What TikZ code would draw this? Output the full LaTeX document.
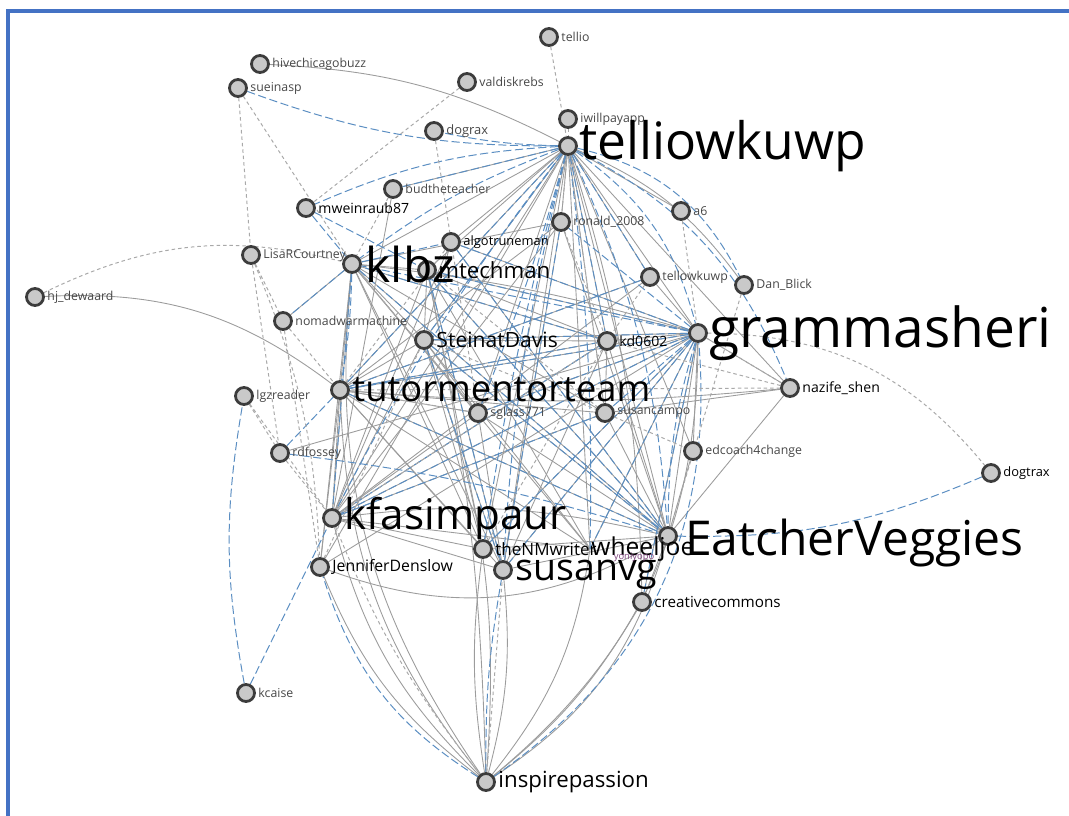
\documentclass[tikz,border=0pt]{standalone}
\usepackage{fontspec}
\setmainfont{Open Sans}
\usetikzlibrary{positioning,backgrounds}

\definecolor{tiegray}{HTML}{9C9C9C}
\definecolor{mentionblue}{HTML}{5B8EC2}
\definecolor{replygray}{HTML}{A9A9A9}
\definecolor{ringgray}{HTML}{3C3C3C}
\definecolor{dotfill}{HTML}{C9C9C9}
\definecolor{frameblue}{HTML}{4472C4}

\tikzset{
  user/.style={circle, draw=ringgray, fill=dotfill, line width=2.4pt,
    minimum size=0.51cm, inner sep=0pt},
  tag/.style={inner sep=0pt, text=black, font=\fontsize{#1}{#1}\selectfont},
  tag/.default=10.5,
  smalltag/.style={tag=#1, text=black!72},
  smalltag/.default=10.5,
  tie/.style={draw=tiegray, line width=0.75pt},
  mention/.style={draw=mentionblue, line width=0.85pt, dash pattern=on 7pt off 3pt},
  reply/.style={draw=replygray, line width=0.85pt, dash pattern=on 3pt off 2.5pt},
}

\begin{document}
\begin{tikzpicture}[x=0.03cm, y=-0.03cm]
  \useasboundingbox (0,0) rectangle (1069,816);
  % frame
  \draw[frameblue, line width=2.6pt] (8,816) -- (8,11) -- (1069,11);

  % users
  \node[user] (tellio)  at (549,37)  {};
  \node[user] (hive)    at (260,64)  {};
  \node[user] (sueinasp) at (238,88) {};
  \node[user] (valdis)  at (467,82)  {};
  \node[user] (iwill)   at (568,119) {};
  \node[user] (twk)     at (568,146) {};
  \node[user] (dograx)  at (434,131) {};
  \node[user] (budt)    at (393,189) {};
  \node[user] (mwein)   at (306,208) {};
  \node[user] (ronald)  at (561,222) {};
  \node[user] (a6)      at (681,211) {};
  \node[user] (algo)    at (451,242) {};
  \node[user] (lisa)    at (251,255) {};
  \node[user] (klbz)    at (352,264) {};
  \node[user] (tellow)  at (650,277) {};
  \node[user] (danb)    at (744,285) {};
  \node[user] (hjd)     at (35,297)  {};
  \node[user] (nomad)   at (283,321) {};
  \node[user] (stein)   at (424,340) {};
  \node[user] (kd)      at (607,341) {};
  \node[user] (gramma)  at (698,333) {};
  \node[user] (tutor)   at (340,390) {};
  \node[user] (nazife)  at (790,388) {};
  \node[user] (lgz)     at (244,396) {};
  \node[user] (sglass)  at (478,413) {};
  \node[user] (scampo)  at (605,413) {};
  \node[user] (rdf)     at (280,453) {};
  \node[user] (edcoach) at (693,451) {};
  \node[user] (dogtrax) at (991,473) {};
  \node[user] (kfas)    at (332,518) {};
  \coordinate (wheel)   at (590,549);
  \node[user] (eatch)   at (668,536) {};
  \node[user] (nmw)     at (483,549) {};
  \node[user] (jden)    at (320,567) {};
  \node[user] (susan)   at (503,570) {};
  \node[user] (ccom)    at (642,602) {};
  \node[user] (kcaise)  at (246,693) {};
  \node[user] (inspire) at (486,782) {};
  \node[user] (mtech)   at (427,270) {};

  % handles
  \node[smalltag, right=2pt of tellio] (tellio-t) {tellio};
  \node[smalltag, right=2pt of hive] (hive-t) {hivechicagobuzz};
  \node[smalltag, right=2pt of sueinasp] (sueinasp-t) {sueinasp};
  \node[smalltag, right=2pt of valdis] (valdis-t) {valdiskrebs};
  \node[smalltag, right=2pt of iwill] (iwill-t) {iwillpayapp};
  \node[tag=44, right=1pt of twk] (twk-t) {telliowkuwp};
  \node[smalltag=11, right=2pt of dograx] (dograx-t) {dograx};
  \node[smalltag, right=2pt of budt] (budt-t) {budtheteacher};
  \node[tag=12, right=2pt of mwein] (mwein-t) {mweinraub87};
  \node[smalltag, right=2pt of ronald] (ronald-t) {ronald\_2008};
  \node[smalltag, right=2pt of a6] (a6-t) {a6};
  \node[tag=11, right=2pt of algo] (algo-t) {algotruneman};
  \node[smalltag, right=2pt of lisa] (lisa-t) {LisaRCourtney};
  \node[tag=41, right=3pt of klbz] (klbz-t) {klbz};
  \node[tag=19, right=1pt of mtech] (mtech-t) {mtechman};
  \node[smalltag, right=2pt of tellow] (tellow-t) {tellowkuwp};
  \node[smalltag, right=2pt of danb] (danb-t) {Dan\_Blick};
  \node[smalltag, right=2pt of hjd] (hjd-t) {hj\_dewaard};
  \node[smalltag, right=2pt of nomad] (nomad-t) {nomadwarmachine};
  \node[tag=18, right=2pt of stein] (stein-t) {SteinatDavis};
  \node[tag=12, right=2pt of kd] (kd-t) {kd0602};
  \node[tag=47, right=1pt of gramma] (gramma-t) {grammasheri};
  \node[tag=31, right=2pt of tutor] (tutor-t) {tutormentorteam};
  \node[tag=12, right=2pt of nazife] (nazife-t) {nazife\_shen};
  \node[smalltag, right=2pt of lgz] (lgz-t) {lgzreader};
  \node[smalltag, right=2pt of sglass] (sglass-t) {sglass771};
  \node[smalltag, right=2pt of scampo] (scampo-t) {susancampo};
  \node[smalltag, right=2pt of rdf] (rdf-t) {rdfossey};
  \node[smalltag, right=2pt of edcoach] (edcoach-t) {edcoach4change};
  \node[tag=11, right=2pt of dogtrax] (dogtrax-t) {dogtrax};
  \node[tag=36, right=2pt of kfas] (kfas-t) {kfasimpaur};
  \node[tag=14.5, right=2pt of nmw] (nmw-t) {theNMwriter};
  \node[tag=21, right=1pt of wheel] (wheel-t) {wheeljoe};
  \node[tag=41, right=6pt of eatch, yshift=-6pt] (eatch-t) {EatcherVeggies};
  \node[tag=13.5, right=2pt of jden] (jden-t) {JenniferDenslow};
  \node[tag=32, right=2pt of susan, yshift=-4pt] (susan-t) {susanvg};
  \node[tag=13, right=2pt of ccom] (ccom-t) {creativecommons};
  \node[smalltag, right=2pt of kcaise] (kcaise-t) {kcaise};
  \node[tag=19, right=2pt of inspire] (inspire-t) {inspirepassion};
  \node[tag=8, text=violet!45!gray] (yoni) at (634,557) {yoniyopo};

  \begin{pgfonlayer}{background}
    % follows
    \foreach \p/\q/\b in {twk/klbz/0, twk/mtech/0, twk/stein/0, twk/tutor/0,
        twk/kfas/0, twk/susan/0, twk/nmw/0, twk/sglass/0, twk/kd/0,
        twk/gramma/0, twk/eatch/0, twk/wheel/0, twk/ronald/0, twk/algo/0,
        twk/scampo/0, twk/nazife/0, twk/a6/0, twk/tellow/0, twk/edcoach/0,
        twk/jden/0, twk/budt/0, hive/twk/12, twk/danb/15, twk/ccom/8,
        gramma/klbz/-5, gramma/mtech/0, gramma/stein/0, gramma/tutor/0,
        gramma/kfas/0, gramma/susan/0, gramma/nmw/0, gramma/sglass/0,
        gramma/kd/0, gramma/eatch/0, gramma/wheel/0, gramma/nazife/0,
        gramma/algo/0, gramma/tellow/0, gramma/edcoach/0, gramma/ccom/0,
        gramma/jden/0, gramma/rdf/0,
        klbz/mtech/0, klbz/stein/0, klbz/tutor/0, klbz/kfas/0, klbz/susan/0,
        klbz/nmw/0, klbz/eatch/0, klbz/wheel/0, klbz/sglass/0, klbz/kd/0,
        klbz/nomad/0, klbz/jden/0, klbz/ronald/0,
        tutor/stein/0, tutor/kfas/0, tutor/susan/0, tutor/eatch/0,
        tutor/wheel/0, tutor/kd/0, tutor/sglass/0, tutor/scampo/0,
        tutor/nazife/-5, tutor/nmw/0, tutor/jden/0, hjd/tutor/20,
        kfas/susan/0, kfas/eatch/10, kfas/wheel/0, kfas/nmw/0, kfas/stein/0,
        kfas/sglass/0, kfas/scampo/0, kfas/mtech/0,
        eatch/susan/0, eatch/nmw/0, eatch/stein/0, eatch/mtech/0,
        eatch/sglass/0, eatch/scampo/0, eatch/kd/0, eatch/edcoach/0,
        eatch/ccom/0, eatch/nazife/0, jden/eatch/-25,
        inspire/kfas/15, inspire/klbz/20, inspire/tutor/18, inspire/nmw/8,
        inspire/susan/-10, inspire/wheel/-15, inspire/eatch/-20,
        inspire/gramma/-25, inspire/jden/15, inspire/mtech/-5,
        inspire/ccom/-10, inspire/stein/-12,
        mtech/stein/0, mtech/kd/0, stein/kd/0, stein/sglass/0, kd/scampo/0,
        nazife/scampo/0, algo/stein/0, ronald/tutor/0, ronald/kfas/0,
        ronald/eatch/0, budt/kfas/0, wheel/stein/0, wheel/mtech/0,
        nmw/mtech/0, nmw/stein/0, susan/mtech/0, susan/stein/0,
        sglass/susan/0, scampo/klbz/0, kd/kfas/0, kd/susan/0, algo/kfas/0,
        algo/eatch/0, tellow/kfas/0, tellow/tutor/0, ronald/susan/0}
      \draw[tie] (\p) to[bend left=\b] (\q);
    % mentions
    \foreach \p/\q/\b in {twk/mwein/-10, sueinasp/twk/-10, twk/dograx/5,
        twk/gramma/20, twk/eatch/10, twk/kd/0, twk/stein/0, twk/tutor/0,
        twk/klbz/-8, twk/kfas/-5, twk/tellow/0, twk/susan/-5, twk/danb/25,
        twk/nazife/20, twk/sglass/3, twk/nmw/-3, twk/wheel/4, budt/twk/0,
        gramma/klbz/0, gramma/mtech/0, gramma/stein/0, gramma/tutor/0,
        gramma/kfas/0, gramma/nmw/0, gramma/susan/0, gramma/eatch/-8,
        gramma/sglass/0, gramma/wheel/0, gramma/ccom/0, gramma/algo/0,
        gramma/scampo/0, gramma/ronald/0,
        mwein/klbz/0, mwein/mtech/0, eatch/dogtrax/-12, kcaise/kfas/0,
        kcaise/lgz/10, inspire/jden/20, inspire/susan/5, inspire/gramma/-30,
        klbz/nomad/0, tutor/rdf/0, klbz/algo/0, tutor/kd/0, stein/eatch/0,
        klbz/eatch/0, kfas/scampo/0, rdf/eatch/5, klbz/kfas/0, klbz/tutor/4,
        tutor/eatch/0, mtech/eatch/0, algo/eatch/0, ronald/susan/0,
        kd/klbz/0, mtech/susan/0, stein/susan/0, kd/kfas/0, tellow/tutor/0}
      \draw[mention] (\p) to[bend left=\b] (\q);
    % replies
    \foreach \p/\q/\b in {tellio/twk/0, valdis/mwein/0, sueinasp/lisa/0,
        sueinasp/klbz/0, lisa/nomad/0, lisa/rdf/0, hjd/klbz/20, nomad/tutor/0,
        lgz/rdf/0, gramma/dogtrax/25, gramma/nazife/0, dograx/sglass/0,
        tellow/kd/0, a6/gramma/0, danb/eatch/0, inspire/kfas/8,
        inspire/susan/0, rdf/kfas/0, lgz/kfas/0, scampo/edcoach/0,
        tutor/sglass/0, nazife/kd/0, nazife/tutor/0, nomad/jden/0,
        lisa/jden/10, twk/scampo/0, twk/ronald/0, budt/klbz/0, ronald/kd/0,
        iwill/twk/0, klbz/sglass/0, mtech/scampo/0, tutor/algo/0,
        kfas/kd/0, stein/scampo/0, nmw/kd/0, jden/stein/0}
      \draw[reply] (\p) to[bend left=\b] (\q);
  \end{pgfonlayer}
\end{tikzpicture}
\end{document}
